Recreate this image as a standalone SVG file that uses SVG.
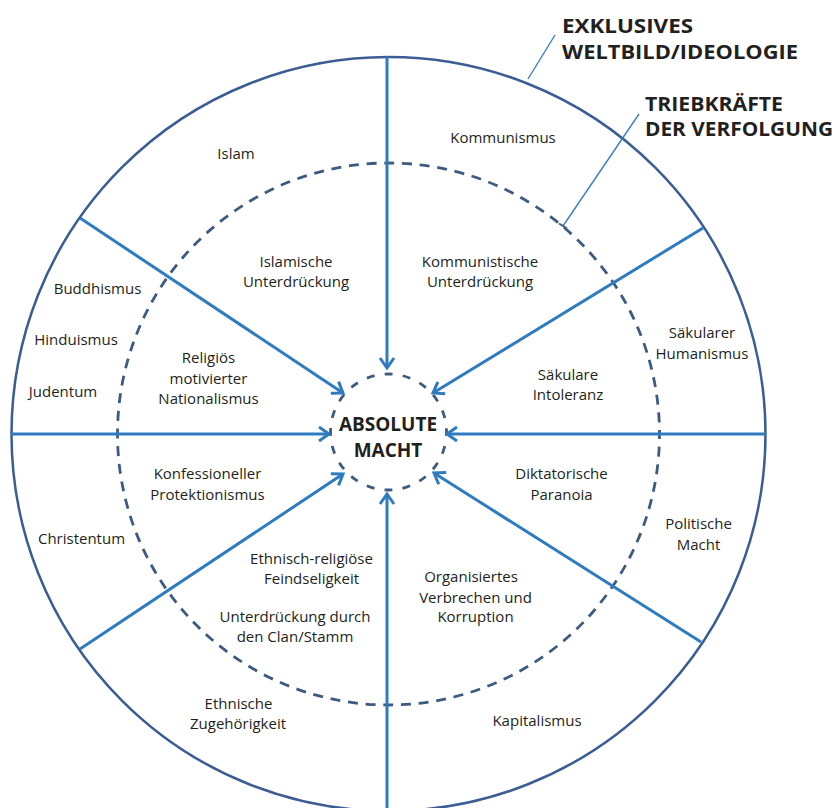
<svg xmlns="http://www.w3.org/2000/svg" width="836" height="808" viewBox="0 0 836 808">
<defs>
<style>
.t{font-family:"Open Sans","Noto Sans","Liberation Sans",sans-serif;font-size:15px;fill:#231f20;text-anchor:middle}
.b{font-family:"Open Sans","Noto Sans","Liberation Sans",sans-serif;font-weight:bold;fill:#231f20}
.con{stroke:#2e7bbf;stroke-width:3;fill:none}
.leader{stroke:#3a7fc0;stroke-width:1.4;fill:none}
</style>
<marker id="ah" markerUnits="userSpaceOnUse" markerWidth="20" markerHeight="20" refX="0" refY="0" viewBox="-12 -10 14 20" orient="auto">
<path d="M-10,-7 L0,0 L-10,7" fill="none" stroke="#2e7bbf" stroke-width="3"/>
</marker>
</defs>
<rect width="836" height="808" fill="#ffffff"/>
<g id="rings">
<circle cx="388.5" cy="434" r="377" fill="none" stroke="#3b5d94" stroke-width="2.5"/>
<circle cx="388.5" cy="434" r="271" fill="none" stroke="#3d5a80" stroke-width="2.8" stroke-dasharray="10 7.74" stroke-dashoffset="5"/>
<circle cx="388.5" cy="432" r="58" fill="none" stroke="#3d5a80" stroke-width="2.8" stroke-dasharray="8 10.2" stroke-dashoffset="4"/>
</g>
<g id="connectors">
<line class="con" x1="387" y1="57" x2="387" y2="368" marker-end="url(#ah)"/>
<line class="con" x1="387" y1="808" x2="387" y2="494" marker-end="url(#ah)"/>
<line class="con" x1="11" y1="434" x2="329" y2="434" marker-end="url(#ah)"/>
<line class="con" x1="766" y1="434" x2="447" y2="434" marker-end="url(#ah)"/>
<line class="con" x1="80" y1="218" x2="343" y2="393" marker-end="url(#ah)"/>
<line class="con" x1="703" y1="228" x2="433" y2="393" marker-end="url(#ah)"/>
<line class="con" x1="80" y1="649" x2="343" y2="474" marker-end="url(#ah)"/>
<line class="con" x1="701" y1="642" x2="434" y2="473" marker-end="url(#ah)"/>
</g>
<g id="leaders">
<line class="leader" x1="528" y1="79" x2="555" y2="35"/>
<line class="leader" x1="563" y1="226" x2="639" y2="114"/>
<line x1="559" y1="223.5" x2="567" y2="228.5" stroke="#3d5a80" stroke-width="2"/>
</g>
<g id="title-weltbild">
<text class="b" x="562" y="33" font-size="20" textLength="131" lengthAdjust="spacingAndGlyphs">EXKLUSIVES</text>
<text class="b" x="562" y="59" font-size="20" textLength="236" lengthAdjust="spacingAndGlyphs">WELTBILD/IDEOLOGIE</text>
</g>
<g id="title-triebkraefte">
<text class="b" x="645" y="111" font-size="20" textLength="138" lengthAdjust="spacingAndGlyphs">TRIEBKRÄFTE</text>
<text class="b" x="645" y="136" font-size="20" textLength="188" lengthAdjust="spacingAndGlyphs">DER VERFOLGUNG</text>
</g>
<g id="center">
<text class="b" x="388" y="431" font-size="19" text-anchor="middle">ABSOLUTE</text>
<text class="b" x="388" y="457" font-size="19" text-anchor="middle">MACHT</text>
</g>
<g id="n-islam"><text class="t" x="236" y="159">Islam</text></g>
<g id="n-kommunismus"><text class="t" x="503" y="143">Kommunismus</text></g>
<g id="n-islamische"><text class="t" x="296" y="266.5">Islamische</text><text class="t" x="296" y="287">Unterdrückung</text></g>
<g id="n-kommunistische"><text class="t" x="480" y="266.5">Kommunistische</text><text class="t" x="480" y="287">Unterdrückung</text></g>
<g id="n-buddhismus"><text class="t" x="97.5" y="294">Buddhismus</text></g>
<g id="n-hinduismus"><text class="t" x="76" y="345">Hinduismus</text></g>
<g id="n-judentum"><text class="t" x="63" y="396.5">Judentum</text></g>
<g id="n-religioes"><text class="t" x="208.5" y="362.5">Religiös</text><text class="t" x="208.5" y="383.5">motivierter</text><text class="t" x="208.5" y="404">Nationalismus</text></g>
<g id="n-saekulare"><text class="t" x="568" y="379.5">Säkulare</text><text class="t" x="568" y="400">Intoleranz</text></g>
<g id="n-saekularer"><text class="t" x="702" y="337.5">Säkularer</text><text class="t" x="702" y="358.5">Humanismus</text></g>
<g id="n-konfessioneller"><text class="t" x="207.5" y="479">Konfessioneller</text><text class="t" x="207.5" y="499.5">Protektionismus</text></g>
<g id="n-diktatorische"><text class="t" x="561.5" y="479">Diktatorische</text><text class="t" x="561.5" y="499.5">Paranoia</text></g>
<g id="n-christentum"><text class="t" x="81.5" y="544">Christentum</text></g>
<g id="n-politische"><text class="t" x="698.5" y="529">Politische</text><text class="t" x="698.5" y="549.5">Macht</text></g>
<g id="n-ethnisch-religioese"><text class="t" x="311.5" y="563.5">Ethnisch-religiöse</text><text class="t" x="311.5" y="583.5">Feindseligkeit</text></g>
<g id="n-clan"><text class="t" x="295" y="621.5">Unterdrückung durch</text><text class="t" x="295" y="641.5">den Clan/Stamm</text></g>
<g id="n-organisiertes"><text class="t" x="471" y="581.5">Organisiertes</text><text class="t" x="475.5" y="602.5">Verbrechen und</text><text class="t" x="475.5" y="622">Korruption</text></g>
<g id="n-ethnische"><text class="t" x="238.5" y="708.5">Ethnische</text><text class="t" x="238" y="728.5">Zugehörigkeit</text></g>
<g id="n-kapitalismus"><text class="t" x="537" y="726">Kapitalismus</text></g>
</svg>
